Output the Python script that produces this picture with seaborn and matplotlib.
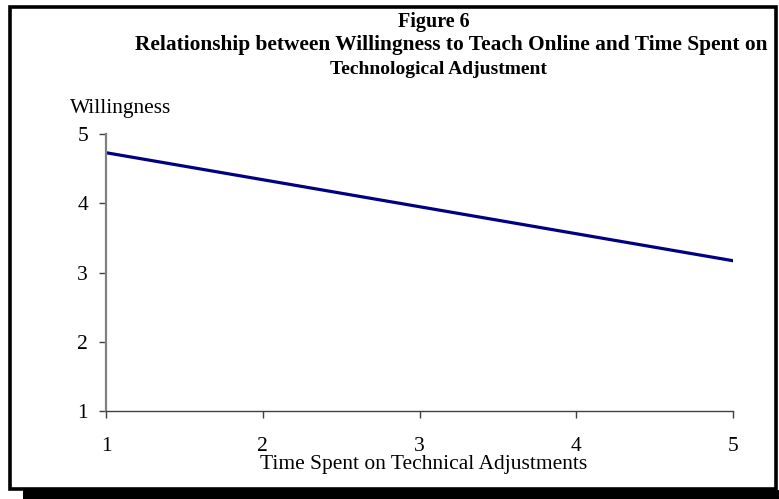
import matplotlib
matplotlib.use("Agg")
import matplotlib.pyplot as plt
from matplotlib.patches import Rectangle
import seaborn as sns
import pandas as pd

# Time spent on technical adjustments (scale 1-5) vs. willingness to teach online
time_spent = [1, 2, 3, 4, 5]
willingness = [4.73, 4.34, 3.95, 3.56, 3.17]
x_ticks = [1, 2, 3, 4, 5]
y_ticks = [1, 2, 3, 4, 5]

df = pd.DataFrame({"time": time_spent, "willingness": willingness})

sns.set_style("white")
plt.rcParams["font.family"] = ["Liberation Serif", "DejaVu Serif"]
plt.rcParams["text.color"] = "black"

W, H = 779, 499
fig = plt.figure(figsize=(W / 100, H / 100), dpi=100)
ax = fig.add_axes([106 / W, 88 / H, (733 - 106) / W, (411 - 134) / H])

sns.lineplot(data=df, x="time", y="willingness", ax=ax, color="#000080",
             linewidth=2.3, errorbar=None)

ax.set_xlim(1, 5)
ax.set_ylim(1, 5)
ax.set_xticks(x_ticks)
ax.set_yticks(y_ticks)
ax.set_xticklabels([str(t) for t in x_ticks])
ax.set_yticklabels([str(t) for t in y_ticks])
ax.set_xlabel("")
ax.set_ylabel("")
for side in ["top", "right"]:
    ax.spines[side].set_visible(False)
ax.spines["left"].set_color("#808080")
ax.spines["left"].set_linewidth(1.6)
ax.spines["bottom"].set_color("#404040")
ax.spines["bottom"].set_linewidth(1.0)
ax.tick_params(axis="y", direction="out", length=5, width=1, color="#404040",
               labelcolor="black", labelsize=15.5, pad=8, left=True)
ax.tick_params(axis="x", direction="out", length=5, width=1, color="#404040",
               labelcolor="black", labelsize=15.5, pad=14, bottom=True)

# Frame with drop shadow
fig.patches.append(Rectangle((23 / W, 0), (W - 23) / W, 9 / H,
                             transform=fig.transFigure, facecolor="black",
                             edgecolor="none", zorder=0))
fig.patches.append(Rectangle((10 / W, (H - 489) / H), (776 - 10) / W, (489 - 7) / H,
                             transform=fig.transFigure, facecolor="none",
                             edgecolor="black", linewidth=2.6, zorder=1))

# Title block
fig.text(434 / W, 1 - 22 / H, "Figure 6", ha="center", va="center",
         fontsize=14.5, fontweight="bold")
fig.text(451 / W, 1 - 45 / H,
         "Relationship between Willingness to Teach Online and Time Spent on",
         ha="center", va="center", fontsize=15.4, fontweight="bold")
fig.text(438 / W, 1 - 69 / H, "Technological Adjustment", ha="center", va="center",
         fontsize=14, fontweight="bold")

fig.text(70 / W, 1 - 108 / H, "Willingness", ha="left", va="center", fontsize=15.4)
fig.text(424 / W, 1 - 465 / H, "Time Spent on Technical Adjustments",
         ha="center", va="center", fontsize=15.5)

fig.savefig("out.png", dpi=100)
